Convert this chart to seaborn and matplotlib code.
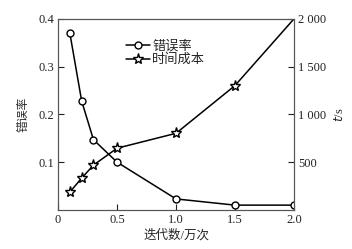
import pandas as pd
import seaborn as sns
import matplotlib.pyplot as plt

iters = [0.1, 0.2, 0.3, 0.5, 1.0, 1.5, 2.0]
error_rate = [0.37, 0.228, 0.147, 0.10, 0.023, 0.01, 0.01]
time_cost = [187, 333, 469, 646, 802, 1302, 2000]

df = pd.DataFrame({'iters': iters, 'err': error_rate, 'time': time_cost})

sns.set_style('ticks')
plt.rcParams['font.family'] = ['Liberation Serif', 'Noto Sans CJK SC']
plt.rcParams['axes.unicode_minus'] = False

fig = plt.figure(figsize=(3.52, 2.49), dpi=100)
ax = fig.add_axes([0.165, 0.157, 0.67, 0.767])
ax2 = ax.twinx()

sns.lineplot(x='iters', y='err', data=df, ax=ax, color='black', lw=1.1,
             marker='o', ms=5, mfc='white', mec='black', mew=1.0, label='错误率', legend=False)
sns.lineplot(x='iters', y='time', data=df, ax=ax2, color='black', lw=1.1,
             marker='*', ms=8, mfc='white', mec='black', mew=1.0, markevery=[0, 1, 2, 3, 4, 5],
             label='时间成本', legend=False)

ax.set_xlim(0, 2.0)
ax.set_ylim(0, 0.4)
ax2.set_ylim(0, 2000)
ax.set_xticks([0, 0.5, 1.0, 1.5, 2.0])
ax.set_xticklabels(['0', '0.5', '1.0', '1.5', '2.0'])
ax.set_yticks([0.1, 0.2, 0.3, 0.4])
ax.set_yticklabels(['0.1', '0.2', '0.3', '0.4'])
ax2.set_yticks([500, 1000, 1500, 2000])
ax2.set_yticklabels(['500', '1 000', '1 500', '2 000'])

for a in (ax, ax2):
    a.tick_params(direction='in', length=4, width=0.8, labelsize=9, pad=3, colors='#222222')
    for s in a.spines.values():
        s.set_color('#555555')
        s.set_linewidth(0.8)

ax.set_xlabel('迭代数/万次', fontsize=9, labelpad=2)
ax.set_ylabel('错误率', fontsize=8.5, labelpad=6)
ax2.set_ylabel('$t$/s', fontsize=9, labelpad=5)

h1, l1 = ax.get_legend_handles_labels()
h2, l2 = ax2.get_legend_handles_labels()
ax.legend(h1 + h2, l1 + l2, loc='upper left', bbox_to_anchor=(0.265, 0.92), frameon=False,
          fontsize=9.5, handlelength=1.8, handletextpad=0.2, labelspacing=0.1, borderaxespad=0)

fig.savefig('out.png', dpi=100)
